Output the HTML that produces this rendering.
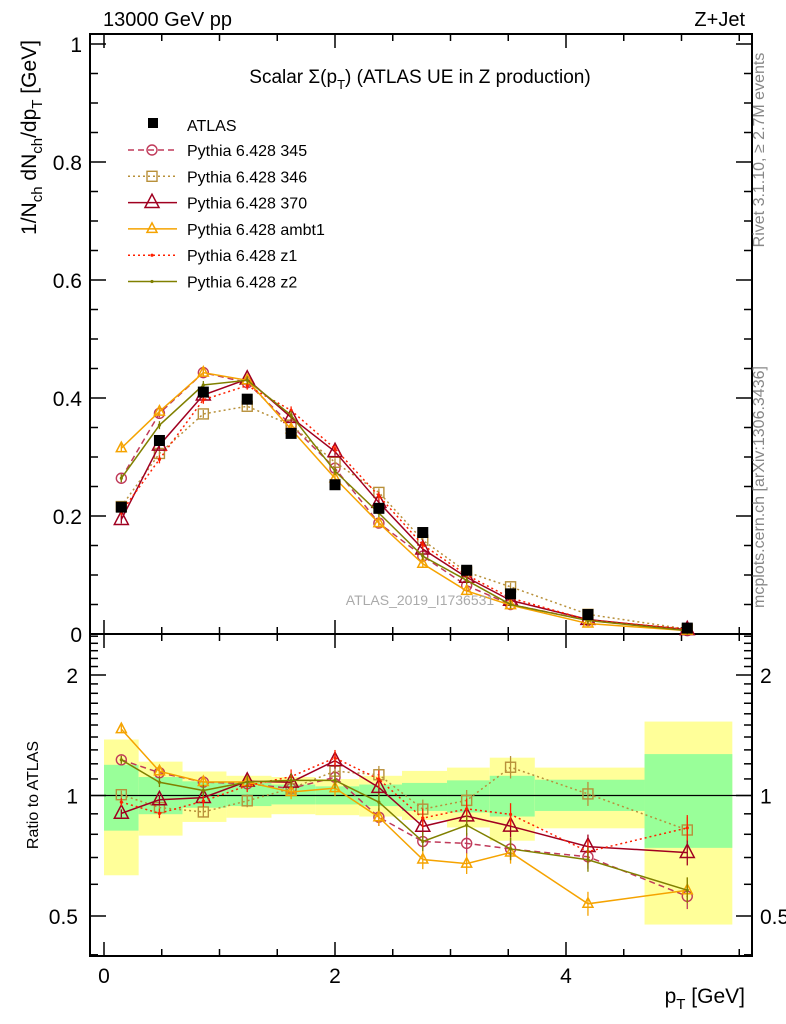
<!DOCTYPE html>
<html><head><meta charset="utf-8"><style>
body{margin:0;background:#fff}
svg{display:block;font-family:"Liberation Sans",sans-serif}
</style></head><body>
<svg id="c" width="786" height="1024" viewBox="0 0 786 1024"></svg>
<script>
const xEdges=[0,0.30,0.68,1.06,1.45,1.83,2.21,2.58,2.97,3.34,3.73,4.68,5.44];
const xCenters=[0.15,0.48,0.86,1.24,1.62,2.0,2.38,2.76,3.14,3.52,4.19,5.05];
const atlas=[0.215,0.328,0.41,0.398,0.34,0.253,0.213,0.172,0.108,0.068,0.033,0.010];
const yelHi=[1.38,1.215,1.148,1.12,1.112,1.099,1.12,1.152,1.174,1.243,1.174,1.53];
const yelLo=[0.632,0.794,0.859,0.880,0.898,0.893,0.886,0.869,0.832,0.771,0.828,0.476];
const grnHi=[1.193,1.112,1.085,1.075,1.065,1.054,1.065,1.075,1.091,1.12,1.095,1.269];
const grnLo=[0.817,0.898,0.932,0.941,0.95,0.95,0.941,0.915,0.907,0.886,0.915,0.74];
const p345=[0.264,0.374,0.443,0.426,0.354,0.281,0.188,0.132,0.082,0.050,0.0232,0.0056];
const p346=[0.216,0.306,0.373,0.386,0.354,0.291,0.240,0.159,0.105,0.080,0.0333,0.0082];
const p370=[0.194,0.320,0.405,0.432,0.367,0.309,0.223,0.144,0.096,0.057,0.0246,0.0072];
const pambt1=[0.315,0.377,0.443,0.430,0.347,0.264,0.188,0.119,0.073,0.049,0.0177,0.0058];
const pz1=[0.207,0.296,0.397,0.421,0.379,0.314,0.234,0.151,0.100,0.061,0.0239,0.0083];
const pz2=[0.264,0.354,0.422,0.430,0.371,0.276,0.205,0.132,0.091,0.050,0.0228,0.0058];
const mainTicks=["0","0.2","0.4","0.6","0.8","1"];
const xTickLabels=["0","2","4"];
const ratioTickLabels=["0.5","1","2"];

const NS="http://www.w3.org/2000/svg";
const svg=document.getElementById('c');
const L=90,R=752,T=34,MB=634,RB=956;
const X=v=>104+v*115.5;
const Y=v=>634-v*590;
const RY=r=>795.5-120.5*Math.log2(r);
function mk(tag,at,parent){const e=document.createElementNS(NS,tag);for(const k in at)e.setAttribute(k,at[k]);(parent||svg).appendChild(e);return e;}
function txt(s,at,name){const e=mk('text',at);e.textContent=s;return e;}

const bands=mk('g',{});


for(let i=0;i<atlas.length;i++){
  const x0=X(xEdges[i]),x1=X(xEdges[i+1]);
  const y=mk('rect',{x:x0,y:RY(yelHi[i]),width:x1-x0,height:RY(yelLo[i])-RY(yelHi[i]),fill:'#ffff99'},bands);
  
  const g=mk('rect',{x:x0,y:RY(grnHi[i]),width:x1-x0,height:RY(grnLo[i])-RY(grnHi[i]),fill:'#99ff99'},bands);
  
}
mk('line',{x1:L,x2:R,y1:RY(1),y2:RY(1),stroke:'#000','stroke-width':1.3});

const fr1=mk('rect',{x:L,y:T,width:R-L,height:MB-T,fill:'none',stroke:'#000','stroke-width':2});

const fr2=mk('rect',{x:L,y:MB,width:R-L,height:RB-MB,fill:'none',stroke:'#000','stroke-width':2});


for(let k=0;k<=11;k++){
  const v=k*0.5,x=X(v);if(x>R)break;const maj=k%4==0;const l=maj?14:7;
  [[T,1],[MB,-1],[MB,1],[RB,-1]].forEach(([y,d])=>mk('line',{x1:x,x2:x,y1:y,y2:y+d*l,stroke:'#000','stroke-width':1.5}));
}
xTickLabels.forEach((s,i)=>txt(s,{x:X(i*2),y:983,'font-size':21,'text-anchor':'middle'},'x-tick-label'));
for(let k=0;k<=20;k++){
  const v=k*0.05,y=Y(v);if(y<T)break;const maj=k%4==0;const l=maj?16:8;
  mk('line',{x1:L,x2:L+l,y1:y,y2:y,stroke:'#000','stroke-width':1.5});
  mk('line',{x1:R,x2:R-l,y1:y,y2:y,stroke:'#000','stroke-width':1.5});
}
mainTicks.forEach((s,i)=>txt(s,{x:82,y:Y(i*0.2)+8,'font-size':21,'text-anchor':'end'},'y-tick-label'));
const rt=[0.4,0.5,0.6,0.7,0.8,0.9,1,1.1,1.2,1.3,1.4,1.5,1.6,1.7,1.8,1.9,2,2.1,2.2,2.3,2.4,2.5];
rt.forEach(r=>{const y=RY(r);if(y<MB||y>RB)return;const maj=(r==0.5||r==1||r==2);const l=maj?16:8;
  mk('line',{x1:L,x2:L+l,y1:y,y2:y,stroke:'#000','stroke-width':1.5});
  mk('line',{x1:R,x2:R-l,y1:y,y2:y,stroke:'#000','stroke-width':1.5});});
ratioTickLabels.forEach(s=>{const r=parseFloat(s);
  txt(s,{x:78,y:RY(r)+8,'font-size':21,'text-anchor':'end'},'ratio-tick-label');
  txt(s,{x:760,y:RY(r)+8,'font-size':21},'ratio-tick-label-right');});

function marker(g,type,x,y,col,size){
  if(type=='circle')mk('circle',{cx:x,cy:y,r:size,fill:'none',stroke:col,'stroke-width':1.4},g);
  else if(type=='square')mk('rect',{x:x-size,y:y-size,width:2*size,height:2*size,fill:'none',stroke:col,'stroke-width':1.4},g);
  else if(type=='tri')mk('polygon',{points:`${x},${y-size*1.2} ${x-size},${y+size*0.7} ${x+size},${y+size*0.7}`,fill:'none',stroke:col,'stroke-width':1.5},g);
  else if(type=='dot')mk('circle',{cx:x,cy:y,r:1.6,fill:col},g);
}
const series=[
  {name:'pythia-345',d:p345,col:'#c03a5a',dash:'6,4',m:'circle',s:5},
  {name:'pythia-346',d:p346,col:'#b8903a',dash:'2,3',m:'square',s:5},
  {name:'pythia-370',d:p370,col:'#a00020',dash:'',m:'tri',s:7},
  {name:'pythia-ambt1',d:pambt1,col:'#f5a300',dash:'',m:'tri',s:5},
  {name:'pythia-z1',d:pz1,col:'#ff2000',dash:'2,3',m:'dot',s:2},
  {name:'pythia-z2',d:pz2,col:'#808000',dash:'',m:'dot',s:2}
];
series.forEach(S=>{
  const g=mk('g',{});
  
  const pm=S.d.map((v,i)=>X(xCenters[i])+','+Y(v)).join(' ');
  mk('polyline',{points:pm,fill:'none',stroke:S.col,'stroke-width':1.5,'stroke-dasharray':S.dash},g);
  const pr=S.d.map((v,i)=>X(xCenters[i])+','+RY(v/atlas[i])).join(' ');
  mk('polyline',{points:pr,fill:'none',stroke:S.col,'stroke-width':1.5,'stroke-dasharray':S.dash},g);
  S.d.forEach((v,i)=>{
    const x=X(xCenters[i]);
    mk('line',{x1:x,x2:x,y1:Y(v)-4,y2:Y(v)+4,stroke:S.col,'stroke-width':1.3},g);
    marker(g,S.m,x,Y(v),S.col,S.s);
    const ry=RY(v/atlas[i]);const e=4+i*0.8;
    mk('line',{x1:x,x2:x,y1:ry-e,y2:ry+e,stroke:S.col,'stroke-width':1.3},g);
    marker(g,S.m,x,ry,S.col,S.s);
  });
});
const ga=mk('g',{});

atlas.forEach((v,i)=>{const x=X(xCenters[i]),y=Y(v);
  const r=mk('rect',{x:x-5.5,y:y-5.5,width:11,height:11,fill:'#000'},ga);
  });

const leg=mk('g',{});

mk('rect',{x:148,y:118,width:10,height:10,fill:'#000'},leg);
txt('ATLAS',{x:187,y:131,'font-size':16},'legend-entry-atlas');
const labels=['Pythia 6.428 345','Pythia 6.428 346','Pythia 6.428 370','Pythia 6.428 ambt1','Pythia 6.428 z1','Pythia 6.428 z2'];
series.forEach((S,i)=>{const y=150+i*26.3;
  mk('line',{x1:128,x2:177,y1:y,y2:y,stroke:S.col,'stroke-width':1.5,'stroke-dasharray':S.dash},leg);
  marker(leg,S.m,152,y,S.col,S.s);
  txt(labels[i],{x:187,y:y+6,'font-size':16},'legend-entry');});

txt('13000 GeV pp',{x:103,y:26,'font-size':20},'energy-label');
txt('Z+Jet',{x:745,y:26,'font-size':20,'text-anchor':'end'},'process-label');
const ti=txt('',{x:420,y:83,'font-size':19,'text-anchor':'middle'},'plot-title');
ti.innerHTML='Scalar Σ(p<tspan font-size="13" dy="6">T</tspan><tspan dy="-6">) (ATLAS UE in Z production)</tspan>';
txt('ATLAS_2019_I1736531',{x:420,y:605,'font-size':14,fill:'#aaa','text-anchor':'middle'},'analysis-watermark');
const yt=txt('',{x:0,y:0,'font-size':21,'text-anchor':'end',transform:'translate(36,40) rotate(-90)'},'y-axis-title');
yt.innerHTML='1/N<tspan font-size="15" dy="6">ch</tspan><tspan dy="-6"> dN</tspan><tspan font-size="15" dy="6">ch</tspan><tspan dy="-6">/dp</tspan><tspan font-size="15" dy="6">T</tspan><tspan dy="-6"> [GeV]</tspan>';
txt('Ratio to ATLAS',{x:0,y:0,'font-size':16,'text-anchor':'middle',transform:'translate(38,795) rotate(-90)'},'ratio-axis-title');
const xt=txt('',{x:745,y:1003,'font-size':21,'text-anchor':'end'},'x-axis-title');
xt.innerHTML='p<tspan font-size="15" dy="6">T</tspan><tspan dy="-6"> [GeV]</tspan>';
txt('Rivet 3.1.10, ≥ 2.7M events',{x:0,y:0,'font-size':16,fill:'#888','text-anchor':'middle',transform:'translate(764,150) rotate(-90)'},'rivet-label');
txt('mcplots.cern.ch [arXiv:1306.3436]',{x:0,y:0,'font-size':16,fill:'#888','text-anchor':'middle',transform:'translate(764,487) rotate(-90)'},'mcplots-label');
</script>
</body></html>
